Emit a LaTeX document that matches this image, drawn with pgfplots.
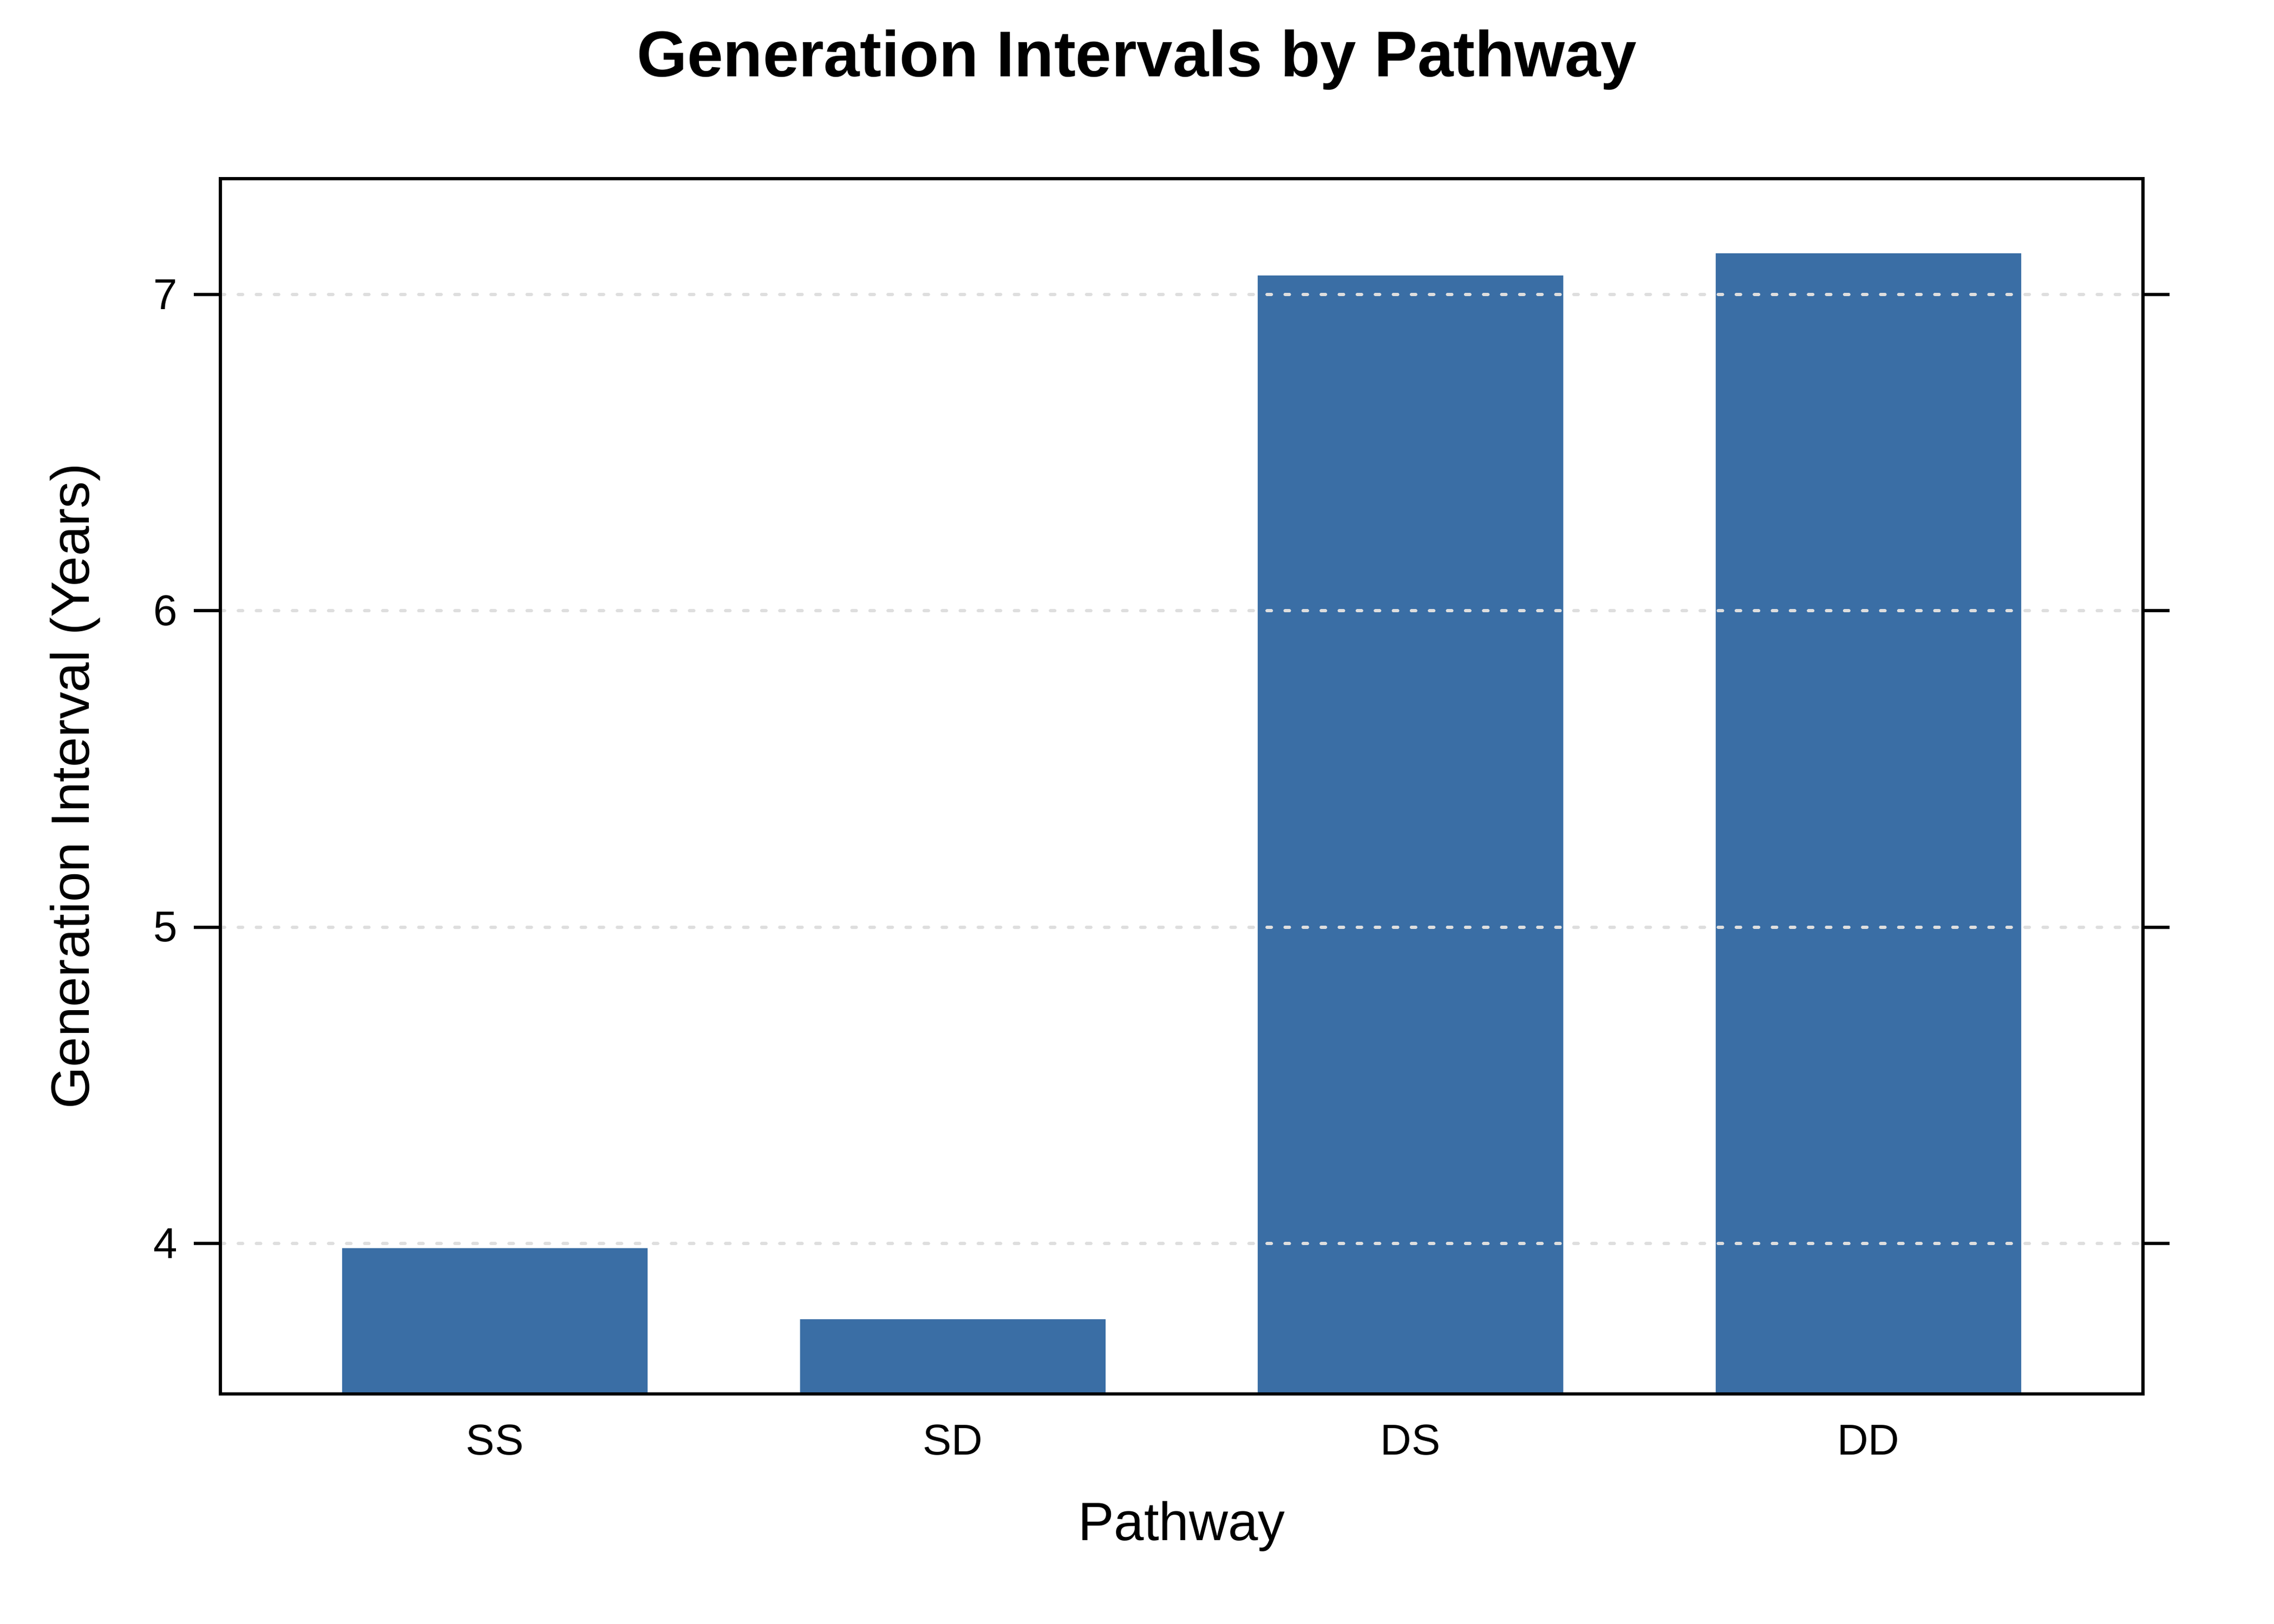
\documentclass[border=0pt]{standalone}
\usepackage{fontspec}
\setmainfont{Liberation Sans}
\usepackage{pgfplots}
\pgfplotsset{compat=1.18}
\definecolor{barblue}{HTML}{3A6EA5}
\definecolor{gridgray}{HTML}{DEDEDE}
\begin{document}
\begin{tikzpicture}
\useasboundingbox (-48.8bp,-51bp) rectangle (455.2bp,309bp);
\begin{axis}[
  at={(0,0)}, anchor=south west,
  scale only axis, width=426.2bp, height=269.4bp,
  xmin=0.4, xmax=4.6, ymin=3.525, ymax=7.366,
  xtick={1,2,3,4}, xticklabels={SS,SD,DS,DD},
  ytick={4,5,6,7},
  axis line style={line width=0.7bp},
  ytick pos=both,
  xtick pos=bottom,
  tick align=outside,
  major tick length=5.8bp,
  tick style={black, line width=0.7bp},
  xtick style={draw=none},
  ymajorgrids=true,
  major grid style={gridgray, line width=0.7bp, line cap=round, dash pattern=on 1bp off 3bp},
  axis on top,
  ticklabel style={font=\fontsize{9.6}{11.5}\selectfont},
  yticklabel style={anchor=east, inner sep=0pt, xshift=-3.5bp, /pgf/number format/assume math mode=true},
  xticklabel style={anchor=center, yshift=-4.4bp},
  xlabel={Pathway},
  ylabel={Generation Interval (Years)},
  label style={font=\fontsize{12}{14}\selectfont},
  xlabel style={at={(axis description cs:0.5,0)}, anchor=center, yshift=-29.4bp},
  ylabel style={at={(axis description cs:0,0.5)}, anchor=center, yshift=32.1bp},
]
\addplot[ybar, bar width=67.7bp, fill=barblue, draw=none] coordinates {(1,3.986) (2,3.761) (3,7.06) (4,7.13)};
\coordinate (ta) at (axis cs:0.4,4);
\coordinate (tb) at (axis cs:0.4,5);
\coordinate (tc) at (axis cs:0.4,6);
\coordinate (td) at (axis cs:0.4,7);
\end{axis}
\foreach \p in {ta,tb,tc,td}{
  \fill[black] ([yshift=-0.35bp]\p) rectangle ([xshift=-5.8bp,yshift=0.35bp]\p);
}
\node[font=\bfseries\fontsize{14.4}{17}\selectfont, anchor=base] at (203.2bp,292bp) {Generation Intervals by Pathway};
\end{tikzpicture}
\end{document}
